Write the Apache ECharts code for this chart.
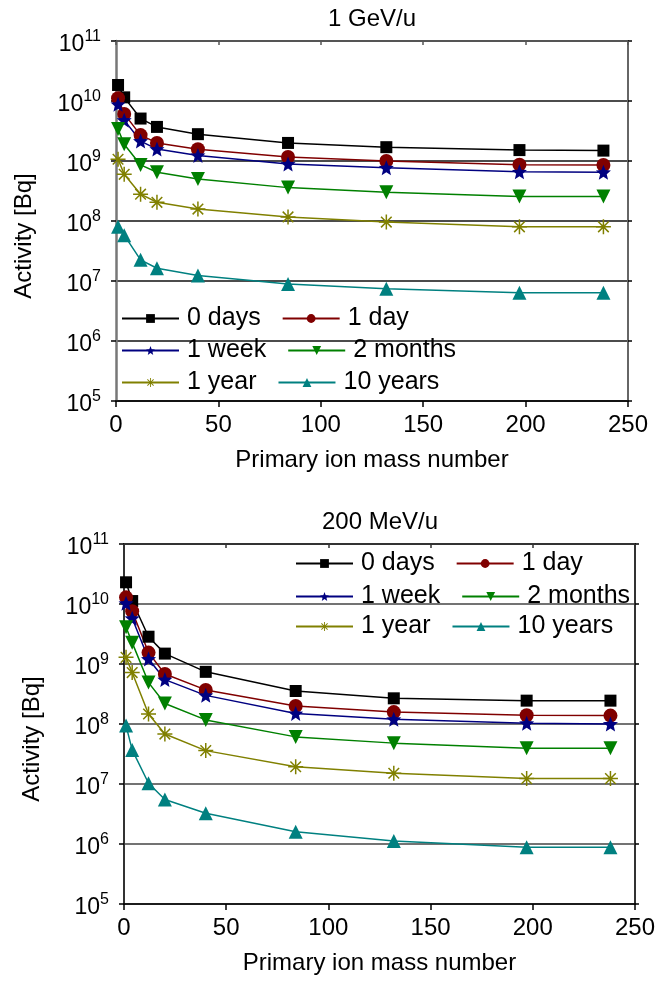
<!DOCTYPE html>
<html>
<head>
<meta charset="utf-8">
<script src="https://cdn.jsdelivr.net/npm/echarts@6/dist/echarts.min.js"></script>
<style>
  html, body { margin: 0; padding: 0; background: #fff; }
  #chart { width: 658px; height: 982px; }
</style>
</head>
<body>
<div id="chart"></div>
<script>
const massNumbers = [1, 4, 12, 20, 40, 84, 132, 197, 238];
const seriesNames = ["0 days", "1 day", "1 week", "2 months", "1 year", "10 years"];
const panelTitles = ["1 GeV/u", "200 MeV/u"];

// 1 GeV/u
const gev0days = [1.85e10, 1.15e10, 5.1e9, 3.7e9, 2.8e9, 2.0e9, 1.7e9, 1.52e9, 1.49e9];
const gev1day = [1.11e10, 6.1e9, 2.7e9, 2.0e9, 1.57e9, 1.17e9, 1.0e9, 8.7e8, 8.6e8];
const gev1week = [8.8e9, 4.8e9, 2.15e9, 1.58e9, 1.24e9, 8.9e8, 7.7e8, 6.6e8, 6.5e8];
const gev2months = [3.4e9, 1.9e9, 8.6e8, 6.5e8, 5.0e8, 3.6e8, 3.0e8, 2.55e8, 2.55e8];
const gev1year = [1.07e9, 6.0e8, 2.8e8, 2.05e8, 1.58e8, 1.17e8, 9.6e7, 8.0e7, 8.0e7];
const gev10years = [8.0e7, 5.8e7, 2.25e7, 1.63e7, 1.24e7, 8.9e6, 7.4e6, 6.4e6, 6.4e6];

// 200 MeV/u
const mev0days = [2.3e10, 1.12e10, 2.85e9, 1.49e9, 7.4e8, 3.55e8, 2.68e8, 2.45e8, 2.45e8];
const mev1day = [1.29e10, 7.6e9, 1.55e9, 6.8e8, 3.7e8, 2.0e8, 1.58e8, 1.4e8, 1.38e8];
const mev1week = [1.03e10, 5.8e9, 1.21e9, 5.5e8, 3.0e8, 1.5e8, 1.2e8, 1.03e8, 1.0e8];
const mev2months = [4.1e9, 2.27e9, 4.9e8, 2.2e8, 1.17e8, 6.1e7, 4.8e7, 3.95e7, 3.95e7];
const mev1year = [1.29e9, 7.2e8, 1.47e8, 6.8e7, 3.6e7, 1.94e7, 1.51e7, 1.23e7, 1.23e7];
const mev10years = [9.4e7, 3.7e7, 1.03e7, 5.5e6, 3.25e6, 1.6e6, 1.12e6, 8.8e5, 8.8e5];

const panelData = [
  [gev0days, gev1day, gev1week, gev2months, gev1year, gev10years],
  [mev0days, mev1day, mev1week, mev2months, mev1year, mev10years]
];

const FONT = "'Liberation Sans', Arial, sans-serif";

const starPath = "path://M0,-1 L0.26,-0.36 L0.951,-0.309 L0.42,0.137 L0.588,0.809 L0,0.44 L-0.588,0.809 L-0.42,0.137 L-0.951,-0.309 L-0.26,-0.36 Z";
const asteriskPath = "path://M-0.1,-1 L0.1,-1 L0.1,1 L-0.1,1 Z M-1,-0.1 L1,-0.1 L1,0.1 L-1,0.1 Z " +
  "M0.636,-0.778 L0.778,-0.636 L-0.636,0.778 L-0.778,0.636 Z M-0.778,-0.636 L-0.636,-0.778 L0.778,0.636 L0.636,0.778 Z";

const styles = [
  { color: "#000000", symbol: "rect", size: 12, rotate: 0 },
  { color: "#800000", symbol: "circle", size: 14, rotate: 0 },
  { color: "#000080", symbol: starPath, size: 15, rotate: 0 },
  { color: "#008000", symbol: "triangle", size: 14, rotate: 180 },
  { color: "#808000", symbol: asteriskPath, size: 15, rotate: 0 },
  { color: "#008080", symbol: "triangle", size: 14, rotate: 0 }
];

const grids = [
  { left: 116, top: 41, width: 512, height: 360 },
  { left: 124, top: 544, width: 513, height: 360 }
];

const frame = [
  { left: "#777", leftW: 2.5, top: "#555", right: "#666", split: "#111" },
  { left: "#333", leftW: 2, top: "#333", right: "#333", split: "#444" }
];

function expLabel(v) {
  return "{b|10}{s|" + Math.round(Math.log10(v)) + "}";
}

const xAxes = [];
const yAxes = [];
grids.forEach((g, p) => {
  xAxes.push({
    gridIndex: p, type: "value", min: 0, max: 250, interval: 50, position: "bottom",
    axisLine: { onZero: false, lineStyle: { color: "#000", width: 1.5 } },
    axisTick: { inside: false, length: 6, lineStyle: { color: "#000", width: 1.5 } },
    axisLabel: { fontSize: 24, color: "#000", margin: 12, fontFamily: FONT },
    splitLine: { show: false },
    name: "Primary ion mass number", nameLocation: "middle", nameGap: 47,
    nameTextStyle: { fontSize: 24, color: "#000", fontFamily: FONT }
  });
  xAxes.push({
    gridIndex: p, type: "value", min: 0, max: 250, interval: 50, position: "top",
    axisLine: { onZero: false, lineStyle: { color: frame[p].top, width: 2 } },
    axisTick: { inside: true, length: 4, lineStyle: { color: frame[p].top, width: 1.5 } },
    axisLabel: { show: false }, splitLine: { show: false }
  });
  yAxes.push({
    gridIndex: p, type: "log", logBase: 10, min: 1e5, max: 1e11, position: "left",
    axisLine: { show: true, onZero: false, lineStyle: { color: frame[p].left, width: frame[p].leftW } },
    axisTick: { show: true, inside: false, length: 5, lineStyle: { color: "#000", width: 1.5 } },
    minorTick: { show: false },
    splitLine: { show: true, lineStyle: { color: frame[p].split, width: 1.5 } },
    axisLabel: {
      margin: 15, color: "#000", formatter: expLabel,
      rich: {
        b: { fontSize: 23, fontFamily: FONT, color: "#000", verticalAlign: "bottom", padding: [8, 0, 0, 0] },
        s: { fontSize: 16, fontFamily: FONT, color: "#000", verticalAlign: "top", padding: [3, 0, 0, 0] }
      }
    },
    name: "Activity [Bq]", nameLocation: "middle", nameRotate: 90, nameGap: 80,
    nameTextStyle: { fontSize: 24, color: "#000", fontFamily: FONT, padding: [0, 30, 0, 0] }
  });
  yAxes.push({
    gridIndex: p, type: "log", logBase: 10, min: 1e5, max: 1e11, position: "right",
    axisLine: { show: true, onZero: false, lineStyle: { color: frame[p].right, width: 2 } },
    axisTick: { show: true, inside: false, length: 4, lineStyle: { color: "#000", width: 1.5 } },
    axisLabel: { show: false }, splitLine: { show: false }
  });
});

const series = [];
panelData.forEach((sets, p) => {
  sets.forEach((vals, i) => {
    const st = styles[i];
    series.push({
      type: "line",
      name: seriesNames[i],
      xAxisIndex: p * 2,
      yAxisIndex: p * 2,
      data: massNumbers.map((a, k) => [a, vals[k]]),
      symbol: st.symbol,
      symbolSize: st.size,
      symbolRotate: st.rotate,
      color: st.color,
      lineStyle: { color: st.color, width: 1.5 },
      itemStyle: { color: st.color },
      showAllSymbol: true,
      animation: false
    });
  });
});

const legendCommon = {
  orient: "horizontal", padding: 0, itemWidth: 57, itemHeight: 11, itemGap: 21,
  selectedMode: false,
  textStyle: { fontSize: 25, color: "#000", fontFamily: FONT, padding: [0, 0, 0, 3] }
};
const legendRows = [[seriesNames[0], seriesNames[1]], [seriesNames[2], seriesNames[3]], [seriesNames[4], seriesNames[5]]];
const legendPos = [
  { left: 121, tops: [306, 338, 370] },
  { left: 295, tops: [551, 584, 614] }
];
const legends = [];
legendPos.forEach(lp => {
  legendRows.forEach((row, r) => {
    legends.push(Object.assign({}, legendCommon, { data: row, left: lp.left, top: lp.tops[r] }));
  });
});

const chart = echarts.init(document.getElementById("chart"), null, { renderer: "canvas" });
chart.setOption({
  backgroundColor: "#fff",
  animation: false,
  grid: grids,
  xAxis: xAxes,
  yAxis: yAxes,
  legend: legends,
  graphic: [
    { type: "text", x: 372, y: 19, style: { text: panelTitles[0], fontSize: 24, fontFamily: FONT, fill: "#000", align: "center", verticalAlign: "middle" } },
    { type: "text", x: 380, y: 522, style: { text: panelTitles[1], fontSize: 24, fontFamily: FONT, fill: "#000", align: "center", verticalAlign: "middle" } }
  ],
  series: series
});
</script>
</body>
</html>
